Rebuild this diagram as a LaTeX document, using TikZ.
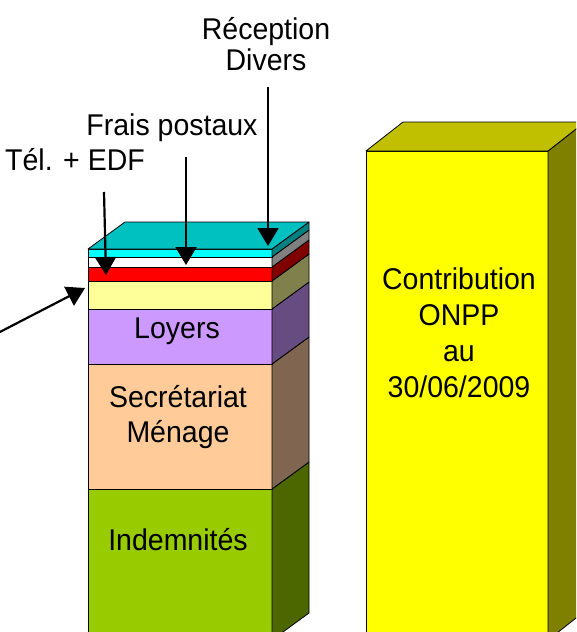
\documentclass[tikz,border=0pt]{standalone}
\usepackage{fontspec}
\setmainfont{Liberation Sans}[FakeStretch=0.95]
\usetikzlibrary{arrows.meta}
\definecolor{cyanF}{HTML}{00FFFF}
\definecolor{cyanT}{HTML}{00C0C0}
\definecolor{cyanS}{HTML}{008080}
\definecolor{whiteS}{HTML}{808080}
\definecolor{redF}{HTML}{FF0000}
\definecolor{redS}{HTML}{800000}
\definecolor{ylwF}{HTML}{FFFF99}
\definecolor{ylwS}{HTML}{80804C}
\definecolor{lavF}{HTML}{CC99FF}
\definecolor{lavS}{HTML}{664C80}
\definecolor{peaF}{HTML}{FFCC99}
\definecolor{peaS}{HTML}{806650}
\definecolor{grnF}{HTML}{99CC00}
\definecolor{grnS}{HTML}{4C6600}
\definecolor{yelF}{HTML}{FFFF00}
\definecolor{yelT}{HTML}{C0C000}
\definecolor{yelS}{HTML}{808000}
\begin{document}
\begin{tikzpicture}[x=1pt,y=-1pt,
  edge/.style={draw=black,line width=0.8pt,line join=round},
  arr/.style={line width=2.2pt,-{Triangle[width=21pt,length=18pt]}},
  lbl/.style={inner sep=0pt,font=\fontsize{30}{31}\selectfont,align=center,anchor=base},
  inlbl/.style={lbl,font=\fontsize{30}{35}\selectfont},
  onpp/.style={lbl,font=\fontsize{30}{36}\selectfont}]
\useasboundingbox (0,0) rectangle (576,632);
\clip (0,0) rectangle (576,632);
% left stacked bar
\newcommand\barlayer[4]{%
  \filldraw[edge,fill=#3] (88,#1) rectangle (272,#2);
  \filldraw[edge,fill=#4] (272,#1) -- ++(37,-27) -- ([shift={(37,-27)}]272,#2) -- (272,#2) -- cycle;}
\barlayer{489}{640}{grnF}{grnS}
\barlayer{364}{489}{peaF}{peaS}
\barlayer{309}{364}{lavF}{lavS}
\barlayer{281}{309}{ylwF}{ylwS}
\barlayer{267}{281}{redF}{redS}
\barlayer{257}{267}{white}{whiteS}
\barlayer{249}{257}{cyanF}{cyanS}
\filldraw[edge,fill=cyanT] (88,249) -- (272,249) -- ++(37,-27) -- (125,222) -- cycle;
% right bar
\filldraw[edge,fill=yelF] (366,151) rectangle (548,640);
\filldraw[edge,fill=yelS] (548,151) -- ++(37,-29) -- (585,611) -- (548,640) -- cycle;
\filldraw[edge,fill=yelT] (366,151) -- (548,151) -- ++(37,-29) -- (403,122) -- cycle;
% inner labels (base = last line)
\node[inlbl] (loy) at (177,338) {Loyers};
\node[inlbl] (sec) at (178,442) {Secrétariat\\Ménage};
\node[inlbl] (ind) at (178,550) {Indemnités};
\node[onpp] (onpp) at (459,397) {Contribution\\ONPP\\au\\30/06/2009};
% outer labels
\node[lbl] (rec) at (266,70) {Réception\\Divers};
\node[lbl] (fra) at (172,135) {Frais postaux};
\node[lbl] (tel) at (75,170) {Tél. + EDF};
% arrows
\coordinate (recA) at (268,87);   \coordinate (recB) at (268,246);
\coordinate (fraA) at (186,157);  \coordinate (fraB) at (186,265);
\coordinate (telA) at (104,192);  \coordinate (telB) at (106,275);
\coordinate (oA) at (-4,334);     \coordinate (oB) at (85,288);
\draw[arr] (recA) -- (recB);
\draw[arr] (fraA) -- (fraB);
\draw[arr] (telA) -- (telB);
\draw[arr] (oA) -- (oB);
\end{tikzpicture}
\end{document}
